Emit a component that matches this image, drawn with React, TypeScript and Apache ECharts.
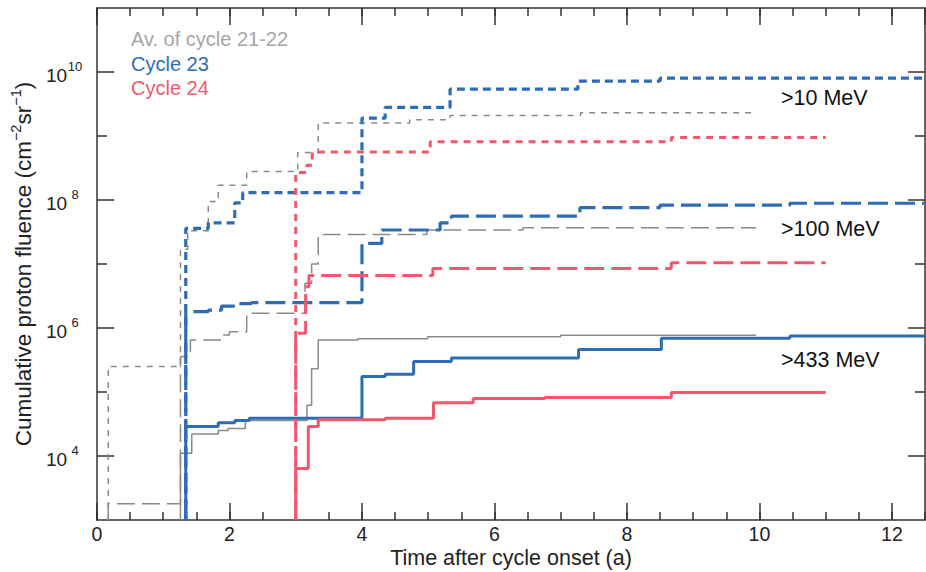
import React, { useEffect, useRef } from 'react';
import * as echarts from 'echarts';

// ---------- DATA ----------
// Step-wise cumulative fluence: times (years after cycle onset) at which the value jumps, and the value after the jump.
// >10 MeV
const avg10T = [0.17, 0.17, 1.26, 1.37, 1.68, 1.83, 2.26, 3.03, 3.34, 4.72, 5.33, 7.3, 9.9];
const avg10V = [1e3, 2.5e5, 1.7e7, 3.3e7, 9.5e7, 1.7e8, 2.8e8, 5.5e8, 1.6e9, 1.8e9, 2.1e9, 2.3e9, 2.3e9];
const c23_10T = [1.34, 1.34, 1.68, 2.08, 2.2, 4.0, 4.35, 5.33, 7.26, 8.5, 12.6];
const c23_10V = [1e3, 3.6e7, 4.4e7, 9e7, 1.3e8, 1.9e9, 2.8e9, 5.4e9, 7.2e9, 8e9, 8e9];
const c24_10T = [3.0, 3.0, 3.17, 3.25, 5.03, 8.67, 11.0];
const c24_10V = [1e3, 2.7e8, 3.5e8, 5.6e8, 8.1e8, 9.5e8, 9.5e8];
// >100 MeV
const avg100T = [0.17, 0.17, 1.26, 1.41, 1.86, 2.0, 2.26, 3.14, 3.24, 3.34, 4.98, 6.43, 9.95];
const avg100V = [1e3, 1.8e3, 3.6e5, 6.5e5, 7.8e5, 8.7e5, 1.7e6, 5e6, 1e7, 2.9e7, 3.4e7, 3.7e7, 3.7e7];
const c23_100T = [1.34, 1.34, 1.68, 1.88, 2.11, 2.33, 4.0, 4.3, 5.18, 5.35, 7.29, 8.5, 10.46, 12.6];
const c23_100V = [1e3, 1.8e6, 1.9e6, 2.2e6, 2.4e6, 2.5e6, 2.1e7, 3.4e7, 4.4e7, 5.6e7, 7.6e7, 8.3e7, 8.9e7, 8.9e7];
const c24_100T = [3.0, 3.0, 3.15, 3.2, 5.07, 8.67, 11.0];
const c24_100V = [1e3, 8.3e5, 4.4e6, 6.6e6, 8.5e6, 1.05e7, 1.05e7];
// >433 MeV
const avg433T = [1.26, 1.26, 1.43, 1.83, 1.98, 2.24, 3.17, 3.24, 3.34, 3.94, 4.99, 7.0, 9.95];
const avg433V = [1e3, 1.1e4, 2.2e4, 2.5e4, 2.7e4, 3.6e4, 6.2e4, 2.3e5, 6.5e5, 6.8e5, 7.3e5, 7.7e5, 7.7e5];
const c23_433T = [1.34, 1.34, 1.83, 2.08, 2.3, 4.0, 4.35, 4.78, 5.35, 7.27, 8.52, 10.46, 12.6];
const c23_433V = [1e3, 2.9e4, 3.3e4, 3.6e4, 3.9e4, 1.75e5, 1.9e5, 3e5, 3.4e5, 4.6e5, 6.9e5, 7.5e5, 7.5e5];
const c24_433T = [3.0, 3.0, 3.19, 3.34, 4.35, 5.08, 5.68, 6.76, 8.67, 11.0];
const c24_433V = [1e3, 6.4e3, 2.9e4, 3.7e4, 3.9e4, 6.8e4, 7.9e4, 8.2e4, 9.8e4, 9.8e4];

const labeledDecades = [1e4, 1e6, 1e8, 1e10];
const minorDecades = [1e5, 1e7, 1e9];
const legendLabels = ['Av. of cycle 21-22', 'Cycle 23', 'Cycle 24'];
const energyLabels = ['>10 MeV', '>100 MeV', '>433 MeV'];

// ---------- STYLE ----------
const FONT = '"Liberation Sans", Arial, Helvetica, sans-serif';
const GRAY = '#8a8a8a';
const BLUE = '#2e6cb5';
const RED = '#f2586c';
const AXIS = '#333';

const pts = (t: number[], v: number[]) => t.map((x, i) => [x, v[i]]);

function stepSeries(t: number[], v: number[], color: string, width: number, dash: number[] | 'solid', z: number) {
  return {
    type: 'line',
    xAxisIndex: 0,
    yAxisIndex: 0,
    data: pts(t, v),
    step: 'end',
    symbol: 'none',
    showSymbol: false,
    silent: true,
    clip: true,
    z,
    lineStyle: { color, width, type: dash },
  };
}

export default function App() {
  const ref = useRef<HTMLDivElement>(null);
  useEffect(() => {
    document.body.style.margin = '0';
    if (!ref.current) return;
    const chart = echarts.init(ref.current, undefined, { renderer: 'svg' });

    const tickStyle = { color: AXIS, width: 1.5 };
    const yBase = {
      type: 'log',
      logBase: 10,
      min: 1e3,
      max: 1e11,
      offset: 0,
      splitLine: { show: false },
    };
    const xBase = {
      type: 'value',
      min: 0,
      max: 12.5,
      offset: 0,
      splitLine: { show: false },
    };

    const option: any = {
      animation: false,
      backgroundColor: '#fff',
      textStyle: { fontFamily: FONT },
      grid: { left: 97, right: 1, top: 8, bottom: 52, containLabel: false, outerBoundsMode: 'none' },
      xAxis: [
        {
          ...xBase,
          position: 'bottom',
          interval: 2,
          axisLine: { show: true, onZero: false, lineStyle: tickStyle },
          axisTick: { show: true, inside: true, length: 17, lineStyle: tickStyle },
          axisLabel: { show: true, color: '#222', fontSize: 19.5, fontFamily: FONT, margin: 4, showMaxLabel: false },
          name: 'Time after cycle onset (a)',
          nameLocation: 'middle',
          nameGap: 27,
          nameMoveOverlap: false,
          nameTextStyle: { color: '#222', fontSize: 21.5, fontFamily: FONT },
        },
        {
          ...xBase,
          position: 'bottom',
          interval: 0.5,
          axisLine: { show: false, onZero: false },
          axisTick: { show: true, inside: true, length: 8, lineStyle: tickStyle },
          axisLabel: { show: false },
        },
        {
          ...xBase,
          position: 'top',
          interval: 2,
          axisLine: { show: true, onZero: false, lineStyle: tickStyle },
          axisTick: { show: true, inside: true, length: 17, lineStyle: tickStyle },
          axisLabel: { show: false },
        },
        {
          ...xBase,
          position: 'top',
          interval: 0.5,
          axisLine: { show: false, onZero: false },
          axisTick: { show: true, inside: true, length: 8, lineStyle: tickStyle },
          axisLabel: { show: false },
        },
      ],
      yAxis: [
        {
          ...yBase,
          position: 'left',
          axisLine: { show: true, onZero: false, lineStyle: tickStyle },
          axisTick: { show: true, inside: true, length: 17, customValues: labeledDecades, lineStyle: tickStyle },
          axisLabel: {
            show: true,
            customValues: labeledDecades,
            margin: 14,
            padding: [6, 0, 0, 0],
            formatter: (val: number) => `{b|10}{e|${Math.round(Math.log10(val))}}`,
            rich: {
              b: { fontSize: 19, fontFamily: FONT, color: '#222', lineHeight: 30 },
              e: { fontSize: 13, fontFamily: FONT, color: '#222', lineHeight: 13, verticalAlign: 'top', width: 16, align: 'left' },
            },
          },
          name: '{a|Cumulative proton fluence (cm}{s|−2}{a|sr}{s|−1}{a|)}',
          nameLocation: 'middle',
          nameRotate: 90,
          nameGap: 59,
          nameMoveOverlap: false,
          nameTextStyle: {
            rich: {
              a: { fontSize: 22.5, fontFamily: FONT, color: '#222', lineHeight: 30 },
              s: { fontSize: 14.5, fontFamily: FONT, color: '#222', lineHeight: 14, verticalAlign: 'top' },
            },
          },
        },
        {
          ...yBase,
          position: 'left',
          axisLine: { show: false, onZero: false },
          axisTick: { show: true, inside: true, length: 10, customValues: minorDecades, lineStyle: tickStyle },
          axisLabel: { show: false },
        },
        {
          ...yBase,
          position: 'right',
          axisLine: { show: true, onZero: false, lineStyle: tickStyle },
          axisTick: { show: true, inside: true, length: 17, customValues: labeledDecades, lineStyle: tickStyle },
          axisLabel: { show: false },
        },
        {
          ...yBase,
          position: 'right',
          axisLine: { show: false, onZero: false },
          axisTick: { show: true, inside: true, length: 10, customValues: minorDecades, lineStyle: tickStyle },
          axisLabel: { show: false },
        },
      ],
      series: [
        stepSeries(avg10T, avg10V, GRAY, 1.5, [6, 6], 2),
        stepSeries(avg100T, avg100V, GRAY, 1.5, [18, 7], 2),
        stepSeries(avg433T, avg433V, GRAY, 1.5, 'solid', 2),
        stepSeries(c23_10T, c23_10V, BLUE, 3.2, [8, 5], 3),
        stepSeries(c23_100T, c23_100V, BLUE, 3.2, [20, 7], 3),
        stepSeries(c23_433T, c23_433V, BLUE, 3, 'solid', 3),
        stepSeries(c24_10T, c24_10V, RED, 3, [7, 6], 4),
        stepSeries(c24_100T, c24_100V, RED, 3, [20, 7], 4),
        stepSeries(c24_433T, c24_433V, RED, 3, 'solid', 4),
      ],
      graphic: [
        { type: 'text', left: 131, top: 29, style: { text: legendLabels[0], fill: '#a6a6a6', font: `20px ${FONT}` } },
        { type: 'text', left: 131, top: 54, style: { text: legendLabels[1], fill: BLUE, font: `20px ${FONT}` } },
        { type: 'text', left: 131, top: 78, style: { text: legendLabels[2], fill: RED, font: `20px ${FONT}` } },
        { type: 'text', left: 781, top: 87, style: { text: energyLabels[0], fill: '#111', font: `21.5px ${FONT}` } },
        { type: 'text', left: 781, top: 218, style: { text: energyLabels[1], fill: '#111', font: `21.5px ${FONT}` } },
        { type: 'text', left: 781, top: 349, style: { text: energyLabels[2], fill: '#111', font: `21.5px ${FONT}` } },
      ],
    };

    chart.setOption(option);
    return () => chart.dispose();
  }, []);

  return <div ref={ref} style={{ width: 926, height: 572 }} />;
}
